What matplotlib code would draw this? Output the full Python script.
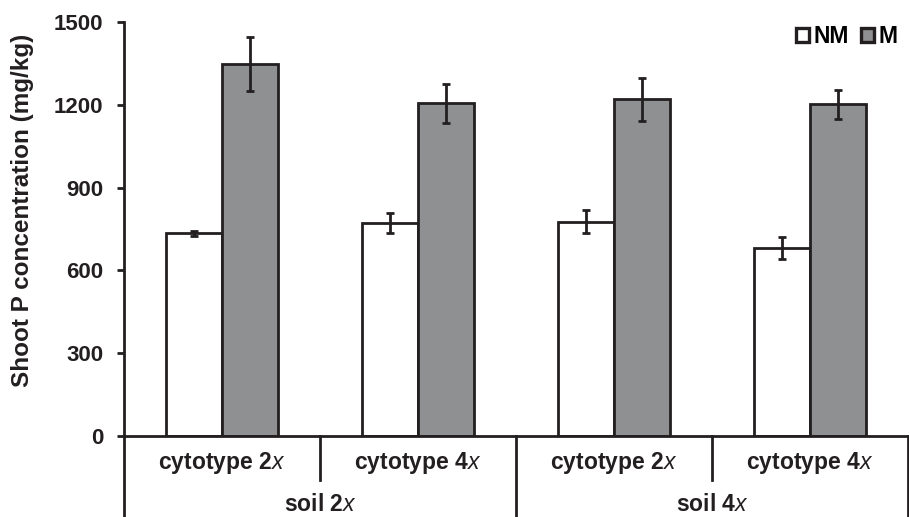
import matplotlib
matplotlib.use("Agg")
import matplotlib.pyplot as plt
import numpy as np
from matplotlib.patches import Patch

plt.rcParams['font.family'] = ['Liberation Sans', 'DejaVu Sans']
plt.rcParams['font.weight'] = 'bold'
plt.rcParams['mathtext.fontset'] = 'custom'
plt.rcParams['mathtext.it'] = 'Liberation Sans:style=italic:weight=normal'
plt.rcParams['mathtext.rm'] = 'Liberation Sans:weight=bold'

cytotypes = [r"cytotype 2$x$", r"cytotype 4$x$", r"cytotype 2$x$", r"cytotype 4$x$"]
soils = [r"soil 2$x$", r"soil 4$x$"]
nm_vals = [734, 771, 777, 680]
nm_err = [10, 37, 41, 40]
m_vals = [1348, 1205, 1220, 1202]
m_err = [97, 70, 77, 52]
yticks = [0, 300, 600, 900, 1200, 1500]
ylabel = "Shoot P concentration (mg/kg)"

ink = '#231f20'
lw = 2.0
W, H = 909, 517
fig = plt.figure(figsize=(W/100, H/100), dpi=100)
L, R, T, B = 124, 908, 22, 436
ax = fig.add_axes([L/W, 1-B/H, (R-L)/W, (B-T)/H])

x = np.arange(len(nm_vals)) + 0.5
bw = 56/196
gray = '#8e9092'
ax.bar(x - bw/2, nm_vals, bw, color='white', edgecolor=ink, linewidth=lw, label='NM', zorder=2)
ax.bar(x + bw/2, m_vals, bw, color=gray, edgecolor=ink, linewidth=lw, label='M', zorder=2)
ax.errorbar(x - bw/2, nm_vals, yerr=nm_err, fmt='none', ecolor=ink, elinewidth=lw, capsize=3, capthick=lw, zorder=3)
ax.errorbar(x + bw/2, m_vals, yerr=m_err, fmt='none', ecolor=ink, elinewidth=lw, capsize=3, capthick=lw, zorder=3)

ax.set_xlim(0, 4)
ax.set_ylim(0, 1500)
ax.set_yticks(yticks)
ax.set_yticklabels([str(v) for v in yticks], fontsize=16, fontweight='bold', color=ink)
ax.tick_params(axis='y', direction='out', length=5, width=lw, color=ink, pad=10)
ax.set_xticks([])
for s in ['top', 'right']:
    ax.spines[s].set_visible(False)
for s in ['left', 'bottom']:
    ax.spines[s].set_linewidth(lw)
    ax.spines[s].set_color(ink)
ax.set_ylabel(ylabel, fontsize=17.5, fontweight='bold', color=ink)
ax.yaxis.set_label_coords((23-124)/784, (436-210)/414)
ax.yaxis.label.set_va('center')

# hierarchical category axis
tr = ax.get_xaxis_transform()
ybot = -(520-436)/414
ymid = -(480-436)/414
lkw = dict(color=ink, linewidth=lw, transform=tr, clip_on=False)
ax.plot([0, 0], [0, ybot], **lkw)
ax.plot([4, 4], [0, ybot], **lkw)
ax.plot([2, 2], [0, ybot], **lkw)
ax.plot([1, 1], [0, ymid], **lkw)
ax.plot([3, 3], [0, ymid], **lkw)
for xi, lab in zip(x, cytotypes):
    ax.text(xi, -(469-436)/414, lab, transform=tr, ha='center', va='baseline', fontsize=16.5, fontweight='bold', color=ink)
for i, lab in enumerate(soils):
    ax.text(1 + 2*i, -(511-436)/414, lab, transform=tr, ha='center', va='baseline', fontsize=16.5, fontweight='bold', color=ink)

handles = [Patch(facecolor='white', edgecolor=ink, linewidth=2.4, label='NM'),
           Patch(facecolor=gray, edgecolor=ink, linewidth=2.4, label='M')]
ax.legend(handles=handles, ncol=2, loc='center right', bbox_to_anchor=((898-124)/784, (436-36.7)/414),
          borderaxespad=0, borderpad=0, frameon=False,
          handlelength=0.6, handleheight=0.6, handletextpad=0.2, columnspacing=0.5,
          prop={'weight': 'bold', 'size': 16.5})

fig.savefig('out.png', dpi=100)
